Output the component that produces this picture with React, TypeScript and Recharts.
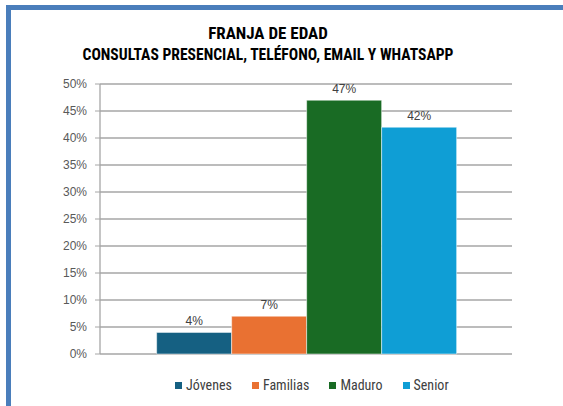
import React from "react";
import { BarChart, Bar, XAxis, YAxis, CartesianGrid, LabelList } from "recharts";

const seriesNames = ["Jóvenes", "Familias", "Maduro", "Senior"];
const seriesValues = [0.04, 0.07, 0.47, 0.42];
const seriesColors = ["#156082", "#E97132", "#196B24", "#0F9ED5"];
const yTicks = [0, 0.05, 0.1, 0.15, 0.2, 0.25, 0.3, 0.35, 0.4, 0.45, 0.5];

const row: Record<string, string | number> = { name: "Franja" };
seriesNames.forEach((n, i) => {
  row[n] = seriesValues[i];
});
const data = [row];

const font = "'Liberation Sans Narrow', 'Roboto Condensed', 'Liberation Sans', Arial, sans-serif";
const tickFont = "'Liberation Sans', Arial, sans-serif";
const pct = (v: number) => `${Math.round(v * 100)}%`;

export default function App() {
  return (
    <div style={{ position: "absolute", left: 0, top: 0, width: 563, height: 406, background: "#fff", fontFamily: font, overflow: "hidden" }}>
      {/* selected frame border */}
      <div style={{ position: "absolute", left: 6, top: 5, width: 557, height: 5, background: "#4a7ebb" }} />
      <div style={{ position: "absolute", left: 6, top: 5, width: 5, height: 401, background: "#4a7ebb" }} />

      <div style={{ position: "absolute", left: 0, width: 536, top: 23, textAlign: "center", fontWeight: 700, fontSize: 17, lineHeight: "20px", color: "#000" }}>
        FRANJA DE EDAD
      </div>
      <div style={{ position: "absolute", left: 0, width: 536, top: 46, textAlign: "center", fontWeight: 700, fontSize: 15.6, lineHeight: "18px", color: "#000" }}>
        CONSULTAS PRESENCIAL, TELÉFONO, EMAIL Y WHATSAPP
      </div>

      <div style={{ position: "absolute", left: 0, top: 0 }}>
        <BarChart
          width={563}
          height={406}
          data={data}
          margin={{ top: 84, right: 51, bottom: 52, left: 10 }}
          barCategoryGap="13.75%"
          barGap={0}
        >
          <CartesianGrid vertical={false} stroke="#a6a6a6" strokeWidth={1.3} />
          <XAxis dataKey="name" tick={false} height={0} axisLine={{ stroke: "#a6a6a6", strokeWidth: 1.3 }} tickLine={false} />
          <YAxis
            domain={[0, 0.5]}
            ticks={yTicks}
            interval={0}
            tickFormatter={pct}
            width={90}
            tickSize={5}
            tickMargin={8}
            axisLine={{ stroke: "#a6a6a6", strokeWidth: 1.3 }}
            tickLine={{ stroke: "#a6a6a6" }}
            tick={{ fill: "#595959", fontSize: 12, fontFamily: tickFont }}
          />
          <YAxis yAxisId="r" orientation="right" width={0} tick={false} tickLine={false} domain={[0, 0.5]} axisLine={{ stroke: "#c4c4c4", strokeWidth: 2 }} />
          {seriesNames.map((n, i) => (
            <Bar key={n} dataKey={n} fill={seriesColors[i]} stroke="#ffffff" strokeWidth={0.5} isAnimationActive={false}>
              <LabelList dataKey={n} position="top" offset={7} formatter={(v: any) => pct(Number(v))} style={{ fill: "#404040", fontSize: 12, fontFamily: tickFont }} />
            </Bar>
          ))}
        </BarChart>
      </div>

      <div style={{ position: "absolute", left: 0, width: 563, top: 377, display: "flex", justifyContent: "flex-start", paddingLeft: 175, boxSizing: "border-box", fontSize: 14, color: "#404040", lineHeight: "16px" }}>
        {seriesNames.map((n, i) => (
          <div key={n} style={{ display: "flex", alignItems: "center", marginRight: 20 }}>
            <span style={{ display: "inline-block", width: 7, height: 7, background: seriesColors[i], marginRight: 4 }} />
            <span>{n}</span>
          </div>
        ))}
      </div>
    </div>
  );
}
